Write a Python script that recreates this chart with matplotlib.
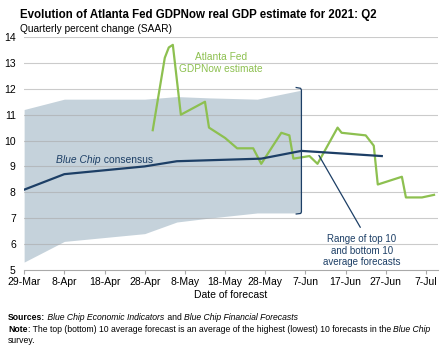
import numpy as np
import matplotlib
matplotlib.use("Agg")
import matplotlib.pyplot as plt
import matplotlib.dates as mdates
from matplotlib.text import Annotation

plt.rcParams['font.family'] = ['Liberation Sans', 'DejaVu Sans']

# Atlanta Fed GDPNow estimates
gdpnow_dates = ['2021-04-30', '2021-05-03', '2021-05-04', '2021-05-05', '2021-05-07',
                '2021-05-13', '2021-05-14', '2021-05-18', '2021-05-21', '2021-05-25',
                '2021-05-27', '2021-06-01', '2021-06-03', '2021-06-04', '2021-06-08',
                '2021-06-10', '2021-06-15', '2021-06-16', '2021-06-22', '2021-06-24',
                '2021-06-25', '2021-07-01', '2021-07-02', '2021-07-06', '2021-07-09']
gdpnow_vals = [10.4, 13.2, 13.6, 13.7, 11.0,
               11.5, 10.5, 10.1, 9.7, 9.7,
               9.1, 10.3, 10.2, 9.3, 9.4,
               9.1, 10.5, 10.3, 10.2, 9.8,
               8.3, 8.6, 7.8, 7.8, 7.9]

# Blue Chip consensus
bc_dates = ['2021-03-29', '2021-04-08', '2021-04-28', '2021-05-06', '2021-05-27', '2021-06-06', '2021-06-26']
bc_vals = [8.1, 8.7, 9.0, 9.2, 9.3, 9.6, 9.4]

# top 10 / bottom 10 range
band_dates = ['2021-03-29', '2021-04-08', '2021-04-28', '2021-05-06', '2021-05-14', '2021-05-26', '2021-06-06']
band_top = [11.2, 11.6, 11.6, 11.7, 11.65, 11.6, 11.95]
band_bot = [5.3, 6.1, 6.4, 6.85, 7.0, 7.2, 7.2]

tick_dates = ['2021-03-29', '2021-04-08', '2021-04-18', '2021-04-28', '2021-05-08', '2021-05-18',
              '2021-05-28', '2021-06-07', '2021-06-17', '2021-06-27', '2021-07-07']
tick_labels = ['29-Mar', '8-Apr', '18-Apr', '28-Apr', '8-May', '18-May', '28-May',
               '7-Jun', '17-Jun', '27-Jun', '7-Jul']

def d(s):
    return mdates.datestr2num(s) if isinstance(s, str) else mdates.datestr2num(list(s))

def chain(fig, first, parts, fs):
    # put text pieces one after another on the same baseline
    prev = first
    for txt, st, wt in parts:
        prev = fig.add_artist(Annotation(txt, xy=(1, 0), xycoords=prev, va='bottom',
                                         fontsize=fs, style=st, weight=wt))
    return prev

green = '#8dc050'
navy = '#1d3f66'
band_col = '#c5d2db'

fig = plt.figure(figsize=(4.47, 3.5), dpi=100)
ax = fig.add_axes([0.054, 0.229, 0.926, 0.665])

ax.fill_between(d(band_dates), band_bot, band_top, color=band_col, lw=0, zorder=1)
for v in range(6, 15):
    ax.axhline(v, color='#a9a9a9', lw=0.8, alpha=0.6, zorder=2)
ax.plot(d(gdpnow_dates), gdpnow_vals, color=green, lw=1.6, zorder=3)
ax.plot(d(bc_dates), bc_vals, color=navy, lw=1.6, zorder=4)

# bracket at the end of the band
bx = d('2021-06-06')
hook = 1.3
ax.plot([bx - hook, bx - 0.2, bx, bx, bx - 0.2, bx - hook],
        [12.05, 12.02, 11.95, 7.24, 7.18, 7.16], color=navy, lw=0.9, zorder=5)

ax.set_xlim(d('2021-03-29'), d('2021-07-10'))
ax.set_ylim(5, 14)
ax.set_yticks(range(5, 15))
ax.set_xticks(d(tick_dates))
ax.set_xticklabels(tick_labels)
for s in ['top', 'right', 'left']:
    ax.spines[s].set_visible(False)
ax.spines['bottom'].set_color('#a9a9a9')
ax.tick_params(axis='x', length=3, color='#a9a9a9', labelsize=7.5, pad=2)
ax.tick_params(axis='y', length=0, labelsize=7.5, pad=6)
ax.set_xlabel('Date of forecast', fontsize=7.5, labelpad=2)

# labels
ax.text(d('2021-05-17'), 12.98, 'Atlanta Fed\nGDPNow estimate', color=green, fontsize=7.3,
        ha='center', va='center', linespacing=1.25)
t1 = ax.text(d('2021-04-06'), 9.25, 'Blue Chip', color=navy, fontsize=7.4, style='italic',
             va='center')
ax.annotate(' consensus', xy=(1, 0), xycoords=t1, va='bottom', color=navy, fontsize=7.4)
ax.annotate('', xy=(d('2021-06-10'), 9.52), xytext=(d('2021-06-21'), 6.55),
            arrowprops=dict(arrowstyle='-', color=navy, lw=0.9))
ax.text(d('2021-06-21'), 6.38, 'Range of top 10\nand bottom 10\naverage forecasts', color=navy,
        fontsize=7, ha='center', va='top', linespacing=1.2)

# titles
fig.text(0.045, 0.975, 'Evolution of Atlanta Fed GDPNow real GDP estimate for 2021: Q2',
         fontsize=8.3, weight='bold', va='top')
fig.text(0.045, 0.93, 'Quarterly percent change (SAAR)', fontsize=7.3, va='top')

# sources and note
fs = 6.2
s1 = fig.text(0.018, 0.085, 'Sources:', fontsize=fs, weight='bold')
chain(fig, s1, [(' Blue Chip Economic Indicators', 'italic', 'normal'),
                (' and ', 'normal', 'normal'),
                ('Blue Chip Financial Forecasts', 'italic', 'normal')], fs)
n1 = fig.text(0.018, 0.052, 'Note', fontsize=fs, weight='bold')
chain(fig, n1, [(': The top (bottom) 10 average forecast is an average of the highest (lowest) 10 forecasts in the ', 'normal', 'normal'),
                ('Blue Chip', 'italic', 'normal')], fs)
fig.text(0.018, 0.02, 'survey.', fontsize=fs)

fig.savefig('out.png', dpi=100)
